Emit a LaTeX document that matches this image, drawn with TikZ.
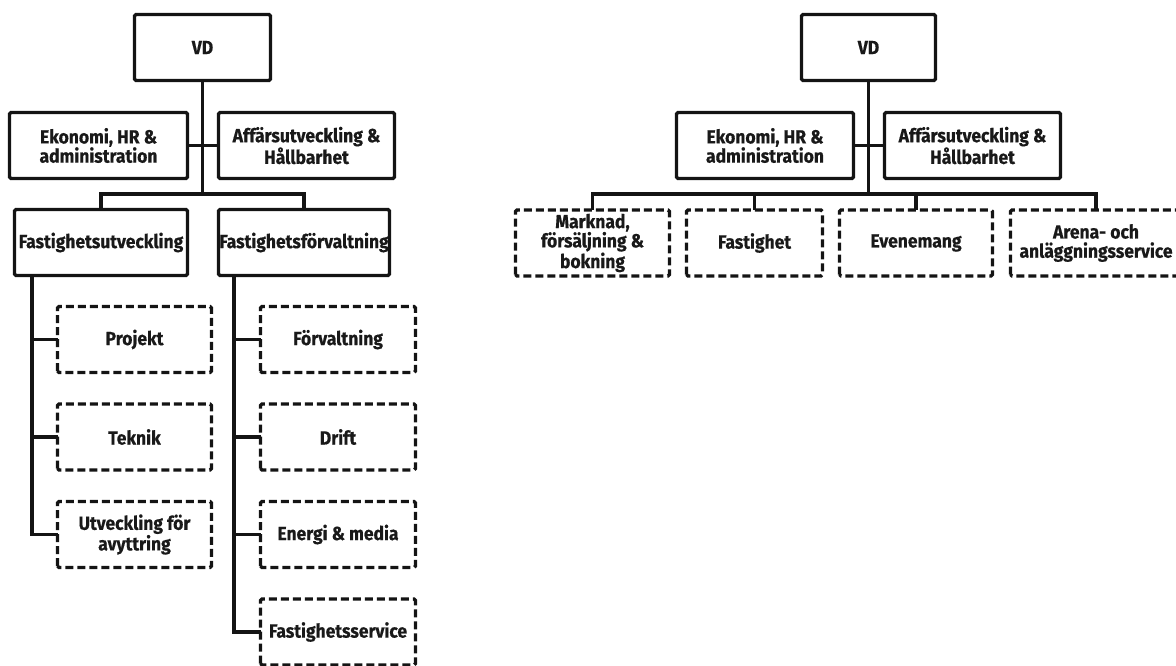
\documentclass[tikz,border=0pt]{standalone}
\usepackage{fontspec}
\setmainfont{Fira Sans}[FakeStretch=0.92, BoldFeatures={FakeBold=0.6}]
\begin{document}
\begin{tikzpicture}[x=1pt,y=-1pt,
  line width=3.3pt,
  every node/.style={font=\fontsize{19}{19.2}\selectfont\bfseries, text=black!90, align=center, inner sep=0pt, outer sep=0pt},
  box/.style={minimum height=66pt},
  solidframe/.style={draw=black!92, line width=3.3pt, rounded corners=1.5pt},
  dashframe/.style={draw=black!92, line width=3.3pt, rounded corners=1.5pt, dash pattern=on 8pt off 4pt},
  link/.style={draw=black!92, line width=3.3pt}]
\useasboundingbox (0,0) rectangle (1176,666);
\clip (0,0) rectangle (1176,666);

% ---------- left chart ----------
\node[box, minimum width=136pt] (vdL) at (202.5,47.5) {VD};
\node[box, minimum width=178pt] (ekL) at (98.5,145.5) {Ekonomi, HR \&\\administration};
\node[box, minimum width=176pt] (afL) at (306.5,145.5) {Affärsutveckling \&\\Hållbarhet};
\node[box, minimum width=173pt] (fu) at (101,242.5) {Fastighetsutveckling};
\node[box, minimum width=171pt] (ff) at (304,242.5) {Fastighetsförvaltning};

\node[box, minimum width=154pt] (proj) at (134.5,339.5) {Projekt};
\node[box, minimum width=154pt] (tek) at (134.5,437) {Teknik};
\node[box, minimum width=154pt] (utv) at (134.5,534.5) {Utveckling för\\avyttring};

\node[box, minimum width=155pt] (forv) at (338,339.5) {Förvaltning};
\node[box, minimum width=155pt] (drift) at (338,437) {Drift};
\node[box, minimum width=155pt] (energi) at (338,534.5) {Energi \& media};
\node[box, minimum width=155pt] (fserv) at (338,632) {Fastighetsservice};

% ---------- right chart ----------
\node[box, minimum width=134pt] (vdR) at (868.5,47.5) {VD};
\node[box, minimum width=177pt] (ekR) at (765,145.5) {Ekonomi, HR \&\\administration};
\node[box, minimum width=176pt] (afR) at (972.5,145.5) {Affärsutveckling \&\\Hållbarhet};

\node[box, minimum width=154pt] (mark) at (592.5,243) {Marknad,\\försäljning \&\\bokning};
\node[box, minimum width=136pt] (fast) at (754.5,243) {Fastighet};
\node[box, minimum width=153pt] (even) at (916,243) {Evenemang};
\node[box, minimum width=171pt] (arena) at (1096,243) {Arena- och\\anläggningsservice};

% box frames
\foreach \n in {vdL,ekL,afL,fu,ff,vdR,ekR,afR}
  \draw[solidframe] (\n.south west) rectangle (\n.north east);
\foreach \n in {proj,tek,utv,forv,drift,energi,fserv,mark,fast,even,arena}
  \draw[dashframe] (\n.south west) rectangle (\n.north east);

% connectors, left chart
\coordinate (barL) at (202.5,194);
\coordinate (spineA) at (32,0);
\coordinate (spineB) at (234,0);

\draw[link] (vdL.south) -- (barL);
\draw[link] (ekL.east) -- (afL.west);
\draw[link] (fu.north) |- (barL) -| (ff.north);

\draw[link] (fu.south -| spineA) |- (utv.west);
\draw[link] (proj.west) -- (proj.west -| spineA);
\draw[link] (tek.west) -- (tek.west -| spineA);

\draw[link] (ff.south -| spineB) |- (fserv.west);
\draw[link] (forv.west) -- (forv.west -| spineB);
\draw[link] (drift.west) -- (drift.west -| spineB);
\draw[link] (energi.west) -- (energi.west -| spineB);

% connectors, right chart
\coordinate (barR) at (868.5,194);

\draw[link] (vdR.south) -- (barR);
\draw[link] (ekR.east) -- (afR.west);
\draw[link] (mark.north) |- (barR) -| (arena.north);
\draw[link] (fast.north) -- (fast.north |- barR);
\draw[link] (even.north) -- (even.north |- barR);
\end{tikzpicture}
\end{document}
